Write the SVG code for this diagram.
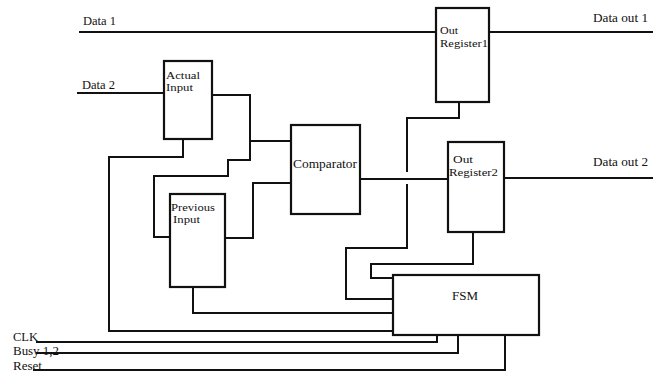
<svg xmlns="http://www.w3.org/2000/svg" width="653" height="372" viewBox="0 0 653 372">
<style>
.box{fill:#fff;stroke:#111;stroke-width:2.2}
.w{fill:none;stroke:#111;stroke-width:2}
text{font-family:"Liberation Serif","Times New Roman",serif;font-size:12px;fill:#111}
text.s{font-size:10.5px}
</style>
<rect width="653" height="372" fill="#fff"/>
<g id="connectors">
<path class="w" d="M79 32H436M489 32H653"/>
<path class="w" d="M77 93H164"/>
<path class="w" d="M212 95H250V160H228V176H154V237H170"/>
<path class="w" d="M250 141H291"/>
<path class="w" d="M225 238H253V183H291"/>
<path class="w" d="M183 139V157H109V331H393"/>
<path class="w" d="M193 287V313H393"/>
<path class="w" d="M360 179H448"/>
<path class="w" d="M504 178H653"/>
<path class="w" d="M459 102V118H407V172M407 184V248H346V299H393"/>
<path class="w" d="M473 232V264H371V278H393"/>
<path class="w" d="M36 342H437V335"/>
<path class="w" d="M36 353H458V335"/>
<path class="w" d="M33 370H505V335"/>
</g>
<g id="labels">
<text x="83" y="25" textLength="33" lengthAdjust="spacingAndGlyphs">Data 1</text>
<text x="82" y="89" textLength="33" lengthAdjust="spacingAndGlyphs">Data 2</text>
<text x="593" y="22" textLength="55" lengthAdjust="spacingAndGlyphs">Data out 1</text>
<text x="593" y="166" textLength="55" lengthAdjust="spacingAndGlyphs">Data out 2</text>
<text x="13" y="341" textLength="25" lengthAdjust="spacingAndGlyphs">CLK</text>
<text x="13" y="355" textLength="46" lengthAdjust="spacingAndGlyphs">Busy 1,2</text>
<text x="13" y="370" textLength="29" lengthAdjust="spacingAndGlyphs">Reset</text>
</g>
<g id="actual-input">
<rect class="box" x="164" y="61" width="48" height="78"/>
<text class="s" x="166" y="79" textLength="34" lengthAdjust="spacingAndGlyphs">Actual</text>
<text class="s" x="166" y="91" textLength="27" lengthAdjust="spacingAndGlyphs">Input</text>
</g>
<g id="previous-input">
<rect class="box" x="170" y="194" width="55" height="93"/>
<text class="s" x="171" y="211" textLength="44" lengthAdjust="spacingAndGlyphs">Previous</text>
<text class="s" x="173" y="223" textLength="27" lengthAdjust="spacingAndGlyphs">Input</text>
</g>
<g id="comparator">
<rect class="box" x="291" y="125" width="69" height="89"/>
<text x="293" y="168" textLength="64" lengthAdjust="spacingAndGlyphs">Comparator</text>
</g>
<g id="out-register1">
<rect class="box" x="436" y="8" width="53" height="94"/>
<text class="s" x="440" y="34" textLength="18" lengthAdjust="spacingAndGlyphs">Out</text>
<text class="s" x="440" y="47" textLength="48" lengthAdjust="spacingAndGlyphs">Register1</text>
</g>
<g id="out-register2">
<rect class="box" x="448" y="142" width="56" height="90"/>
<text class="s" x="453" y="163" textLength="20" lengthAdjust="spacingAndGlyphs">Out</text>
<text class="s" x="449" y="176" textLength="49" lengthAdjust="spacingAndGlyphs">Register2</text>
</g>
<g id="fsm">
<rect class="box" x="393" y="275" width="146" height="60"/>
<text x="452" y="300" textLength="26" lengthAdjust="spacingAndGlyphs">FSM</text>
</g>
</svg>
